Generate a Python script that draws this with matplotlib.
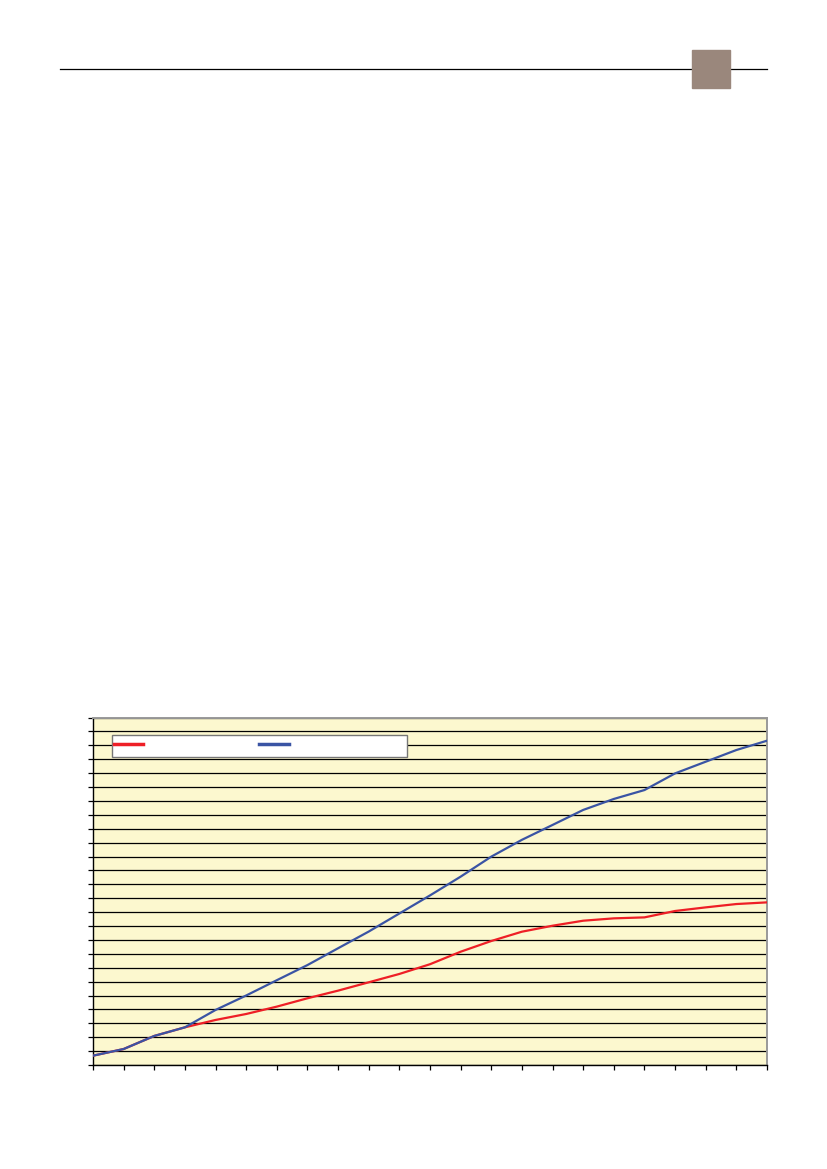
import numpy as np
import matplotlib
matplotlib.use('Agg')
import matplotlib.pyplot as plt
from matplotlib.lines import Line2D

# 데이터
x = np.arange(23)
red_vals = [0.67, 1.15, 2.09, 2.71, 3.24, 3.67, 4.2, 4.8, 5.35, 5.95, 6.55, 7.25,
            8.15, 8.92, 9.59, 10.02, 10.38, 10.55, 10.62, 11.08, 11.34, 11.58, 11.7]
blue_vals = [0.67, 1.15, 2.09, 2.71, 3.96, 5.0, 6.1, 7.19, 8.4, 9.6, 10.9, 12.2,
             13.55, 14.99, 16.2, 17.27, 18.35, 19.14, 19.78, 20.98, 21.82, 22.66, 23.33]
y_ticks = list(range(0, 26))

red_c = '#ee1f26'
blue_c = '#3a54a4'

fig = plt.figure(figsize=(8.27, 11.69), dpi=100)

# 머리글 선과 갈색 사각형
fig.add_artist(Line2D([60 / 827, 767 / 827], [1 - 69.3 / 1169] * 2, color='black', lw=0.9))
fig.patches.append(plt.Rectangle((692 / 827, 1 - 88 / 1169), 38 / 827, 38 / 1169,
                                 transform=fig.transFigure, color='#9a877c', zorder=3))

ax = fig.add_axes([93 / 827, 104 / 1169, 674 / 827, 347.5 / 1169])
ax.set_facecolor('#fcf8cf')

ax.plot(x, red_vals, color=red_c, lw=1.6, zorder=3)
ax.plot(x, blue_vals, color=blue_c, lw=1.6, zorder=4)

ax.set_xlim(0, 22)
ax.set_ylim(0, 25)
ax.set_xticks(x)
ax.set_yticks(y_ticks)
ax.set_xticklabels([])
ax.set_yticklabels([])
ax.tick_params(direction='out', length=3.5, width=0.9, color='black')
ax.yaxis.grid(True, color='black', lw=0.9)
ax.set_axisbelow(True)

for s in ['left', 'bottom']:
    ax.spines[s].set_color('black')
    ax.spines[s].set_linewidth(1.0)
for s in ['top', 'right']:
    ax.spines[s].set_color('#999999')
    ax.spines[s].set_linewidth(1.4)

# 범례 상자 (글자 없음) - 축 좌표로 직접 그림
ax.add_patch(plt.Rectangle((0.0278, 0.8872), 0.4376, 0.0624, transform=ax.transAxes,
                           facecolor='white', edgecolor='#777777', lw=1.0, zorder=5))
ax.add_line(Line2D([0.0312, 0.0742], [0.9237, 0.9237], transform=ax.transAxes,
                   color=red_c, lw=2.5, zorder=6))
ax.add_line(Line2D([0.2463, 0.2908], [0.9237, 0.9237], transform=ax.transAxes,
                   color=blue_c, lw=2.5, zorder=6))

fig.savefig('out.png', dpi=100)
